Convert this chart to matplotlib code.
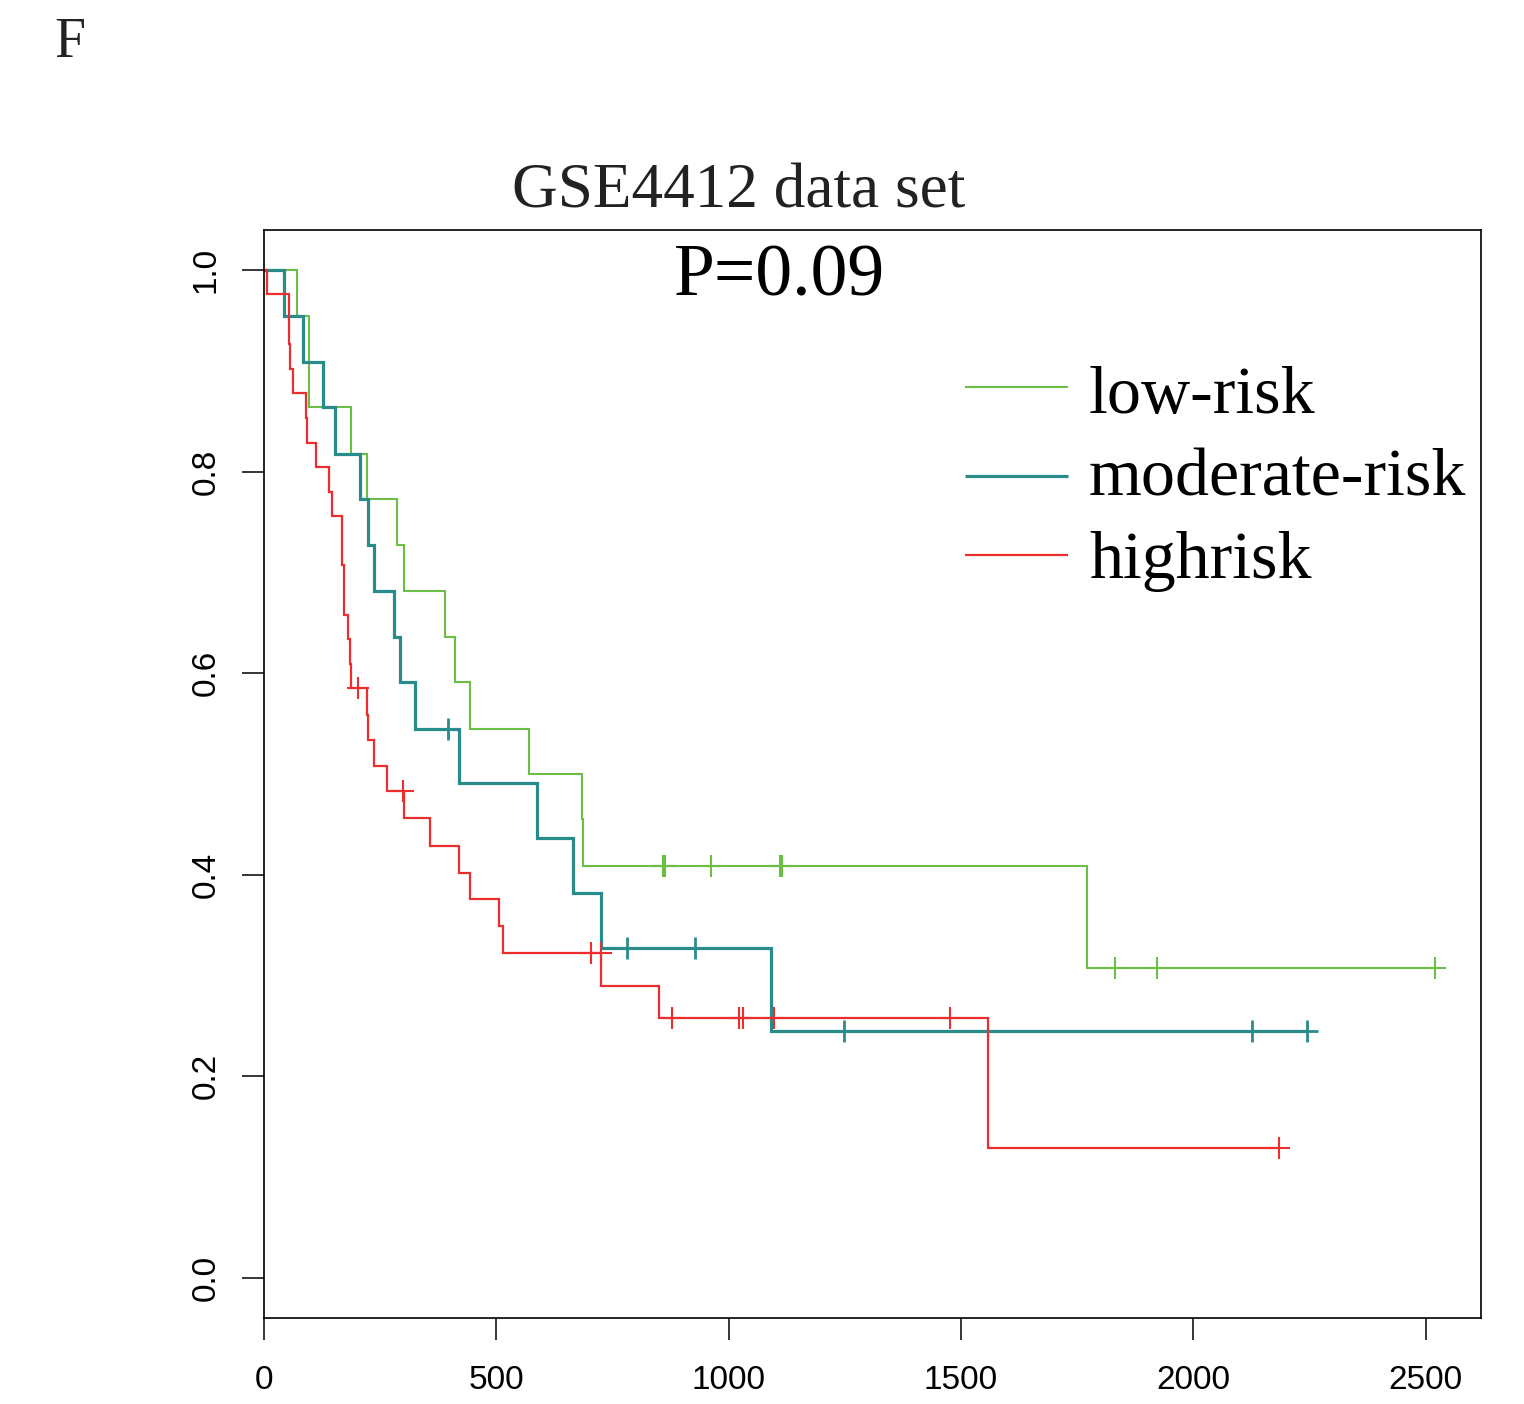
import numpy as np
import matplotlib
matplotlib.use("Agg")
import matplotlib.pyplot as plt

# ---------------- data ----------------
groups = ["low-risk", "moderate-risk", "highrisk"]

low_times = [71, 97, 188, 222, 286, 302, 390, 412, 443, 570, 684, 687, 1771]
low_surv = [0.955, 0.864, 0.818, 0.773, 0.727, 0.682, 0.636, 0.591, 0.545,
            0.500, 0.455, 0.409, 0.307]
low_cens = [859, 863, 962, 1110, 1115, 1831, 1922, 2520]

mod_times = [42, 85, 126, 153, 206, 223, 237, 279, 293, 325, 420, 588, 664, 726, 1090]
mod_surv = [0.955, 0.909, 0.864, 0.818, 0.773, 0.727, 0.682, 0.636, 0.591,
            0.545, 0.491, 0.436, 0.382, 0.327, 0.245]
mod_cens = [397, 781, 928, 1249, 2126, 2244]

high_times = [6, 53, 54, 56, 63, 90, 92, 111, 140, 146, 168, 172, 181, 185, 187,
              222, 224, 237, 265, 301, 357, 419, 443, 506, 515, 726, 851, 1559]
high_surv = [0.976, 0.951, 0.927, 0.902, 0.878, 0.853, 0.829, 0.805, 0.780,
             0.756, 0.707, 0.658, 0.634, 0.609, 0.585, 0.559, 0.534, 0.508,
             0.483, 0.456, 0.429, 0.402, 0.376, 0.349, 0.322, 0.290, 0.258, 0.129]
high_cens = [203, 299, 703, 725, 878, 1023, 1030, 1098, 1476, 2184]

colors = ["#6CBE45", "#2A8B8B", "#EE2E2E"]
lws = [1.5, 2.3, 1.6]
mews = [1.5, 2.0, 1.5]

x_ticks = [0, 500, 1000, 1500, 2000, 2500]
y_ticks = [0.0, 0.2, 0.4, 0.6, 0.8, 1.0]
title = "GSE4412 data set"
p_text = "P=0.09"
panel = "F"

# ---------------- figure ----------------
W, H = 1524, 1404
fig = plt.figure(figsize=(W / 100, H / 100), dpi=100)
ax = fig.add_axes([264 / W, (H - 1318) / H, 1217 / W, 1088 / H])

series = [(low_times, low_surv, low_cens),
          (mod_times, mod_surv, mod_cens),
          (high_times, high_surv, high_cens)]

for (tt, ss, cc), col, lw, mew in zip(series, colors, lws, mews):
    t = np.array([0.0] + list(tt), dtype=float)
    s = np.array([1.0] + list(ss), dtype=float)
    tmax = max(max(tt), max(cc))
    t_all = np.append(t, tmax)
    s_all = np.append(s, s[-1])
    ax.step(t_all, s_all, where="post", color=col, lw=lw, solid_joinstyle="miter")
    cc = np.array(cc, dtype=float)
    idx = np.searchsorted(t, cc, side="right") - 1
    ax.plot(cc, s[idx], linestyle="none", marker="+", markersize=16.5,
            markeredgewidth=mew, color=col)

ax.set_xlim(0, 2619)
ax.set_ylim(-0.04, 1.04)
ax.set_xticks(x_ticks)
ax.set_xticklabels([str(v) for v in x_ticks])
ax.set_yticks(y_ticks)
ax.set_yticklabels([f"{v:.1f}" for v in y_ticks])

for sp in ax.spines.values():
    sp.set_linewidth(1.2)
    sp.set_color("black")

ax.tick_params(axis="both", direction="out", length=15.5, width=1.1,
               labelsize=24, colors="black")
ax.tick_params(axis="x", pad=18)
ax.tick_params(axis="y", pad=15, labelrotation=90)
for lab in ax.get_xticklabels() + ax.get_yticklabels():
    lab.set_fontfamily("Liberation Sans")
for lab in ax.get_yticklabels():
    lab.set_va("center")

# ---------------- legend (manual, R style) ----------------
def fx(px):
    return (px - 264) / 1217

def fy(py):
    return (1318 - py) / 1088

leg_line_y = [386.7, 476, 555]
leg_base_y = [413, 495, 577.5]
for name, col, lw, ly, by in zip(groups, colors, lws, leg_line_y, leg_base_y):
    ax.plot([fx(965), fx(1068)], [fy(ly), fy(ly)], transform=ax.transAxes,
            color=col, lw=lw, clip_on=False, solid_capstyle="butt")
    ax.text(fx(1089), fy(by), name, transform=ax.transAxes, ha="left",
            va="baseline", fontsize=49, family="Liberation Serif", color="black")

# ---------------- texts ----------------
fig.text(739 / W, 1 - 208 / H, title, ha="center", va="baseline",
         fontsize=45.5, family="Liberation Serif", color="#222222")
fig.text(779 / W, 1 - 295 / H, p_text, ha="center", va="baseline",
         fontsize=53, family="Liberation Serif", color="black")
fig.text(54 / W, 1 - 57 / H, panel, ha="left", va="baseline",
         fontsize=40, family="Liberation Serif", color="#222222")

fig.savefig("out.png", dpi=100, facecolor="white")
